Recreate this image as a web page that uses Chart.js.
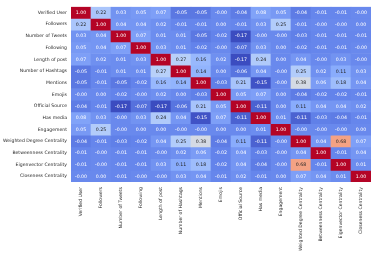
<!DOCTYPE html>
<html><head>
<script src="https://cdn.jsdelivr.net/npm/chart.js@4/dist/chart.umd.min.js"></script>
<style>html,body{margin:0;padding:0;background:#fff}canvas{display:block}</style>
</head><body>
<canvas id="c" width="374" height="254"></canvas>
<script>
const variables = ["Verified User","Followers","Number of Tweets","Following","Length of post","Number of Hashtags","Mentions","Emojis","Official Source","Has media","Engagement","Weighted Degree Centrality","Betweenness Centrality","Eigenvector Centrality","Closeness Centrality"];

const corrVerifiedUser   = [1.00, 0.22, 0.03, 0.05, 0.07, -0.05, -0.05, -0.00, -0.04, 0.08, 0.05, -0.04, -0.01, -0.01, -0.00];
const corrFollowers      = [0.22, 1.00, 0.04, 0.04, 0.02, -0.01, -0.01, 0.00, -0.01, 0.03, 0.25, -0.01, -0.00, -0.00, 0.00];
const corrNumTweets      = [0.03, 0.04, 1.00, 0.07, 0.01, 0.01, -0.05, -0.02, -0.17, -0.00, -0.00, -0.03, -0.01, -0.01, -0.01];
const corrFollowing      = [0.05, 0.04, 0.07, 1.00, 0.03, 0.01, -0.02, -0.00, -0.07, 0.03, 0.00, -0.02, -0.01, -0.01, -0.00];
const corrLengthOfPost   = [0.07, 0.02, 0.01, 0.03, 1.00, 0.27, 0.16, 0.02, -0.17, 0.24, 0.00, 0.04, -0.00, 0.03, -0.00];
const corrNumHashtags    = [-0.05, -0.01, 0.01, 0.01, 0.27, 1.00, 0.14, 0.00, -0.06, 0.04, -0.00, 0.25, 0.02, 0.11, 0.03];
const corrMentions       = [-0.05, -0.01, -0.05, -0.02, 0.16, 0.14, 1.00, -0.03, 0.21, -0.15, -0.00, 0.38, 0.06, 0.18, 0.04];
const corrEmojis         = [-0.00, 0.00, -0.02, -0.00, 0.02, 0.00, -0.03, 1.00, 0.05, 0.07, 0.00, -0.04, -0.02, -0.02, -0.01];
const corrOfficialSource = [-0.04, -0.01, -0.17, -0.07, -0.17, -0.06, 0.21, 0.05, 1.00, -0.11, 0.00, 0.11, 0.04, 0.04, 0.02];
const corrHasMedia       = [0.08, 0.03, -0.00, 0.03, 0.24, 0.04, -0.15, 0.07, -0.11, 1.00, 0.01, -0.11, -0.03, -0.04, -0.01];
const corrEngagement     = [0.05, 0.25, -0.00, 0.00, 0.00, -0.00, -0.00, 0.00, 0.00, 0.01, 1.00, -0.00, -0.00, -0.00, 0.00];
const corrWeightedDegree = [-0.04, -0.01, -0.03, -0.02, 0.04, 0.25, 0.38, -0.04, 0.11, -0.11, -0.00, 1.00, 0.04, 0.68, 0.07];
const corrBetweenness    = [-0.01, -0.00, -0.01, -0.01, -0.00, 0.02, 0.06, -0.02, 0.04, -0.03, -0.00, 0.04, 1.00, -0.01, 0.04];
const corrEigenvector    = [-0.01, -0.00, -0.01, -0.01, 0.03, 0.11, 0.18, -0.02, 0.04, -0.04, -0.00, 0.68, -0.01, 1.00, 0.01];
const corrCloseness      = [-0.00, 0.00, -0.01, -0.00, -0.00, 0.03, 0.04, -0.01, 0.02, -0.01, 0.00, 0.07, 0.04, 0.01, 1.00];

const matrix = [corrVerifiedUser, corrFollowers, corrNumTweets, corrFollowing, corrLengthOfPost, corrNumHashtags, corrMentions, corrEmojis, corrOfficialSource, corrHasMedia, corrEngagement, corrWeightedDegree, corrBetweenness, corrEigenvector, corrCloseness];

const allVals = matrix.flat();
const vmin = Math.min(...allVals), vmax = Math.max(...allVals);

const cw = [[0,59,76,192],[0.125,98,130,234],[0.25,141,176,254],[0.375,184,208,249],[0.5,221,221,221],[0.625,245,196,173],[0.75,244,154,123],[0.875,222,96,77],[1,180,4,38]];
function cmap(v){
  let t = (v - vmin)/(vmax - vmin); t = Math.max(0, Math.min(1, t));
  for (let k=0;k<cw.length-1;k++){
    const a=cw[k], b=cw[k+1];
    if (t<=b[0]){ const f=(t-a[0])/(b[0]-a[0]); return [1,2,3].map(i=>Math.round(a[i]+(b[i]-a[i])*f)); }
  }
  return cw[cw.length-1].slice(1);
}
function lum(rgb){
  const c = rgb.map(x=>{x/=255; return x<=0.03928? x/12.92 : Math.pow((x+0.055)/1.055,2.4);});
  return 0.2126*c[0]+0.7152*c[1]+0.0722*c[2];
}
function fmt(v){ return ((v<0||Object.is(v,-0))?'-':'') + Math.abs(v).toFixed(2); }

const FONT = 'DejaVu Sans';

const annot = {
  id:'annot',
  afterDatasetsDraw(chart){
    const ctx = chart.ctx;
    ctx.save();
    ctx.font = '4.7px "'+FONT+'"';
    ctx.textAlign='center'; ctx.textBaseline='middle';
    chart.data.datasets.forEach((ds,i)=>{
      chart.getDatasetMeta(i).data.forEach((bar,j)=>{
        const v = matrix[i][j];
        const p = bar.getProps(['x','y','base'], true);
        ctx.fillStyle = lum(cmap(v)) < 0.408 ? '#ffffff' : '#262626';
        ctx.fillText(fmt(v), p.x, (p.y+p.base)/2 + 0.3);
      });
    });
    ctx.restore();
  }
};

new Chart(document.getElementById('c'), {
  type:'bar',
  data:{
    labels: variables,
    datasets: matrix.map((row,i)=>({
      label: variables[i],
      data: row.map(()=>[i, i+1]),
      backgroundColor: row.map(v=>{const c=cmap(v); return 'rgb('+c.join(',')+')';}),
      borderWidth:0,
      grouped:false,
      barPercentage:1,
      categoryPercentage:1
    }))
  },
  options:{
    responsive:false, animation:false, devicePixelRatio:1,
    layout:{padding:{top:2,right:3,left:0,bottom:0}},
    plugins:{legend:{display:false}, tooltip:{enabled:false}},
    scales:{
      x:{
        grid:{display:false, drawTicks:false}, border:{display:false},
        ticks:{autoSkip:false, minRotation:90, maxRotation:90, color:'#262626', padding:5, font:{size:4.6, family:FONT}},
        afterFit(s){ s.height = 72; }
      },
      y:{
        type:'linear', min:0, max:15, reverse:true,
        grid:{display:false, drawTicks:false}, border:{display:false},
        afterBuildTicks(s){ s.ticks = variables.map((_,i)=>({value:i+0.5})); },
        ticks:{autoSkip:false, color:'#262626', padding:4, font:{size:4.6, family:FONT},
          callback:(v)=>variables[Math.floor(v)]},
        afterFit(s){ s.width = 71; }
      }
    }
  },
  plugins:[annot]
});
</script>
</body></html>
